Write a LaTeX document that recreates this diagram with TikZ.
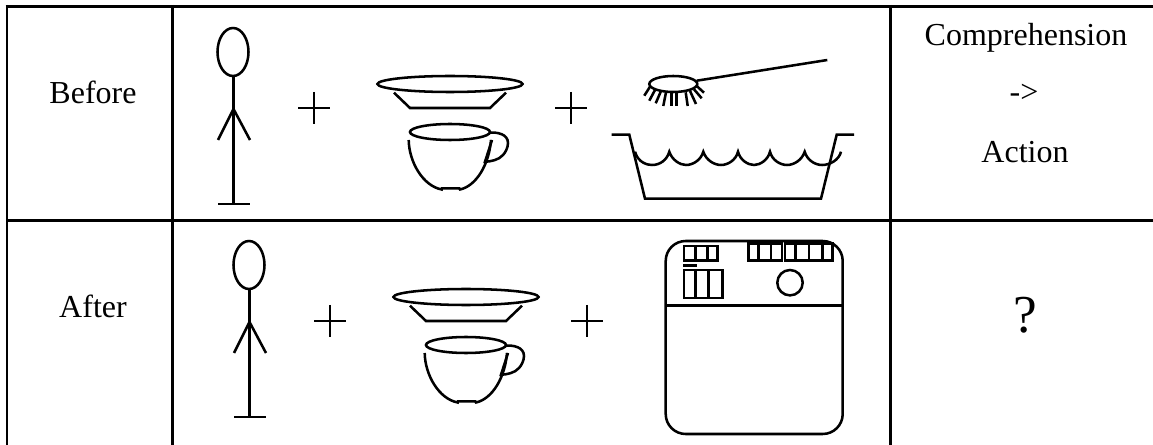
\documentclass[tikz,border=0pt]{standalone}
\usepackage{fontspec}
\setmainfont{Liberation Serif}
\tikzset{
  x=0.75pt,y=-0.75pt,
  ink/.style={line width=1.9pt,line join=miter},
  thin ink/.style={line width=1.5pt},
  grid/.style={line width=2.1pt},
  cell/.style={font=\fontsize{24}{28}\selectfont,inner sep=0pt,anchor=base},
}
\newcommand{\person}{
  \draw[ink] (233,52) ellipse [x radius=15.5,y radius=24];
  \draw[ink] (233.5,76) -- (233.5,204);
  \draw[ink] (218,140) -- (233.5,109) -- (250,140);
  \draw[ink] (218,204) -- (250,204);
}
\newcommand{\plus}{
  \draw[thin ink] (298,108) -- (330,108);
  \draw[thin ink] (314,92) -- (314,124);
}
\newcommand{\dishes}{
  \draw[ink] (450,84) ellipse [x radius=72.5,y radius=8];
  \draw[ink] (394,92.7) -- (410,108) -- (490,108) -- (506,92.7);
  \draw[ink] (450,132) ellipse [x radius=40,y radius=8];
  \draw[ink] (408.7,140) .. controls (409,162) and (423,186) .. (441.7,189.5) -- (442,188.3) -- (459.3,188.3) -- (460,189.5) .. controls (476,186) and (489,165) .. (491,140);
  \draw[ink] (490,132.7) .. controls (497,132) and (508,134) .. (508,143) .. controls (508,148) and (505,153) .. (503,155) .. controls (499,160) and (490,161.7) .. (485,161.7) -- (492,140);
}
\begin{document}
\begin{tikzpicture}
\useasboundingbox (0,0) rectangle (1153,445);
\fill[white] (0,0) rectangle (1153,445);
% table
\coordinate (tl) at (5.6,6.2);
\coordinate (tr) at (1153,6.2);
\coordinate (ml) at (7,220.2);
\coordinate (mr) at (1153,220.2);
\draw[grid] (tl) -- (tr);
\draw[grid] (ml) -- (mr);
\draw[grid] (7,5) -- (7,445);
\draw[grid] (172.5,5) -- (172.5,445);
\draw[grid] (890.5,5) -- (890.5,445);
% labels
\node[cell] (before) at (93,104) {Before};
\node[cell] (after) at (93,318) {After};
\node[cell] (comp) at (1026,46) {Comprehension};
\node[cell] (arrow) at (1024,103) {->};
\node[cell] (action) at (1025,163) {Action};
\node[cell,font=\fontsize{40}{44}\selectfont] (q) at (1025.7,333) {?};
% before row
\person
\plus
\dishes
\draw[thin ink] (555,108) -- (587,108);
\draw[thin ink] (571,92) -- (571,124);
% brush
\draw[ink] (673.3,84) ellipse [x radius=24,y radius=8];
\draw[ink] (696.7,80.7) -- (827.3,60);
\foreach \a/\b/\c/\d in {650/86.7/644.3/95.7,655/90/649.3/100.7,660.7/91.7/655.7/103.3,666/92.3/663.3/106,671.7/92.3/671.7/106,676.7/92.3/676.7/106,685.7/92.3/687.7/106,690/91/696/104,694/89.3/701.7/98.3,696.7/86/704/92.7}
  \draw[ink] (\a,\b) -- (\c,\d);
% tub
\draw[ink] (611.7,134.7) -- (629.3,134.7) -- (645,198.7) -- (821,198.7) -- (836.7,134.7) -- (854,134.7);
\draw[ink] (635,151.7) .. controls (638,163) and (648,165) .. (652,165) .. controls (660,165) and (667,160) .. (669.3,151.7)
  .. controls (672,160) and (680,165) .. (686,165) .. controls (693,165) and (701,160) .. (703.3,151.7)
  .. controls (706,160) and (714,165) .. (721,165) .. controls (728,165) and (736,160) .. (738,151.7)
  .. controls (740,160) and (748,165) .. (754,165) .. controls (760,165) and (768,160) .. (770,151.7)
  .. controls (772,160) and (780,165) .. (787,165) .. controls (794,165) and (802,160) .. (804.7,151.7)
  .. controls (807,160) and (815,165) .. (822,165) .. controls (830,165) and (839,160) .. (841,151.7);
% after row
\begin{scope}[shift={(16,213)}]
\person
\plus
\dishes
\draw[thin ink] (555,108) -- (587,108);
\draw[thin ink] (571,92) -- (571,124);
\end{scope}
% dishwasher
\draw[ink,rounded corners=15pt] (665.7,241) rectangle (842.7,434);
\draw[ink] (665.7,305.7) -- (842.7,305.7);
\draw[ink] (684,246) rectangle (717.7,260.7);
\draw[ink] (695.3,246) -- (695.3,260.7) (707.3,246) -- (707.3,260.7);
\draw[ink] (683.3,265.3) -- (696.7,265.3);
\draw[ink] (684,270) rectangle (722.7,298);
\draw[ink,line width=2.4pt] (695.3,270) -- (695.3,298);
\draw[ink] (708.7,270) -- (708.7,298);
\draw[ink] (748.3,243.5) rectangle (782,260.7);
\draw[ink] (758.3,243.5) -- (758.3,260.7) (771,243.5) -- (771,260.7);
\draw[ink] (785,243.5) rectangle (832.7,260.7);
\draw[ink] (795.7,243.5) -- (795.7,260.7) (809,243.5) -- (809,260.7) (822.3,243.5) -- (822.3,260.7);
\draw[ink] (790,282.7) circle [radius=12.7];
\end{tikzpicture}
\end{document}
